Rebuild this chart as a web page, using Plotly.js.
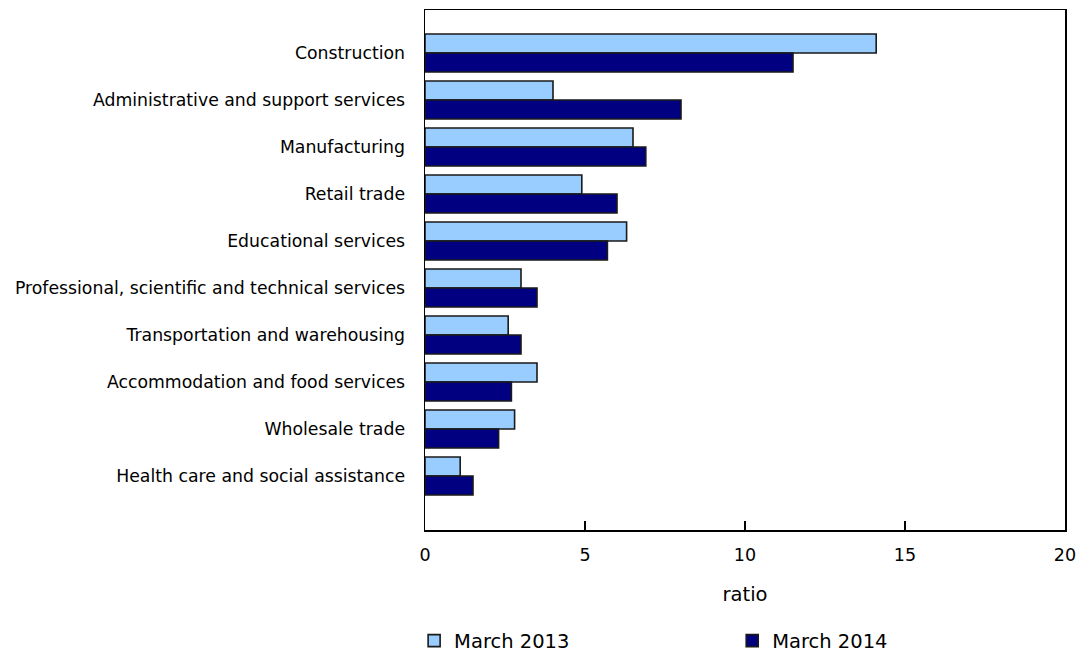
<!DOCTYPE html>
<html>
<head>
<meta charset="utf-8">
<script src="https://cdn.plot.ly/plotly-3.0.1.min.js"></script>
<style>body{margin:0;padding:0;background:#fff;}#chart{width:1079px;height:654px;}</style>
</head>
<body>
<div id="chart"></div>
<script>
const categories = [
  "Construction",
  "Administrative and support services",
  "Manufacturing",
  "Retail trade",
  "Educational services",
  "Professional, scientific and technical services",
  "Transportation and warehousing",
  "Accommodation and food services",
  "Wholesale trade",
  "Health care and social assistance"
];
const march2013 = [14.1, 4.0, 6.5, 4.9, 6.3, 3.0, 2.6, 3.5, 2.8, 1.1];
const march2014 = [11.5, 8.0, 6.9, 6.0, 5.7, 3.5, 3.0, 2.7, 2.3, 1.5];
const seriesNames = ["March 2013", "March 2014"];
const xTicks = [0, 5, 10, 15, 20];

const fam = "DejaVu Sans, Verdana, sans-serif";

const traces = [
  {type: "bar", orientation: "h", name: seriesNames[0], y: categories, x: march2013,
   legend: "legend",
   marker: {color: "#99CCFF", line: {color: "#1a1a1a", width: 1.6}}},
  {type: "bar", orientation: "h", name: seriesNames[1], y: categories, x: march2014,
   legend: "legend2",
   marker: {color: "#000080", line: {color: "#1a1a1a", width: 1.6}}}
];

const legendFont = {family: fam, size: 19.5, color: "#000"};

const layout = {
  width: 1079, height: 654,
  margin: {l: 425, r: 14, t: 10, b: 124},
  paper_bgcolor: "#fff", plot_bgcolor: "#fff",
  font: {family: fam, size: 17.3, color: "#000"},
  barmode: "group",
  bargap: 0.19,
  bargroupgap: 0,
  showlegend: true,
  legend: {orientation: "h", x: -0.017, xanchor: "left",
           yref: "container", y: 0.02, yanchor: "middle",
           font: legendFont, bgcolor: "rgba(0,0,0,0)"},
  legend2: {orientation: "h", x: 0.48, xanchor: "left",
           yref: "container", y: 0.02, yanchor: "middle",
           font: legendFont, bgcolor: "rgba(0,0,0,0)"},
  xaxis: {
    range: [0, 20], tickvals: xTicks, ticktext: xTicks.map(String),
    ticks: "inside", ticklen: 9, tickcolor: "#000", tickwidth: 1.5,
    showgrid: false, zeroline: false,
    showline: true, linecolor: "#000", linewidth: 1.5, mirror: true,
    tickfont: {family: fam, size: 17.5, color: "#000"},
    ticklabelstandoff: 8,
    automargin: false,
    title: {text: "ratio", font: {family: fam, size: 19.5, color: "#000"}, standoff: 24}
  },
  yaxis: {
    type: "category",
    categoryorder: "array", categoryarray: categories,
    range: [10.149, -0.915],
    showgrid: false, zeroline: false,
    showline: true, linecolor: "#000", linewidth: 1.5, mirror: true,
    ticks: "", ticklabelstandoff: 15,
    automargin: false,
    tickfont: {family: fam, size: 17.3, color: "#000"}
  }
};

Plotly.newPlot("chart", traces, layout, {displayModeBar: false, staticPlot: true});
</script>
</body>
</html>
